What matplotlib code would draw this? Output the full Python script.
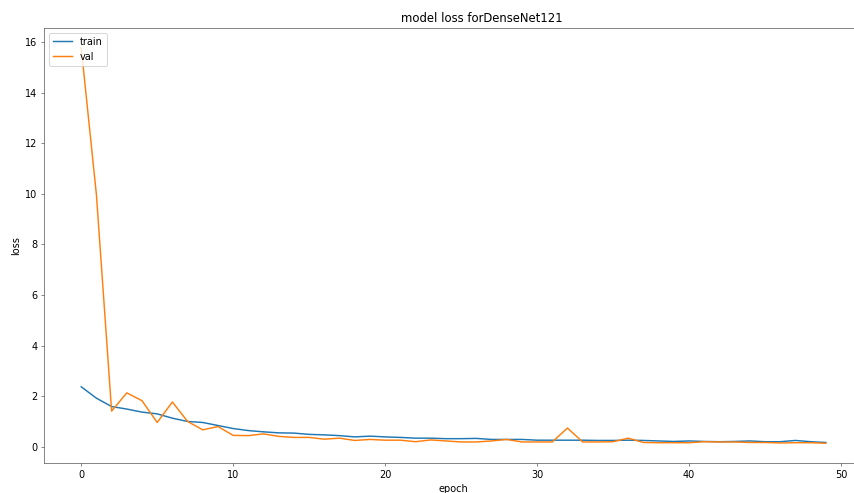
import matplotlib
matplotlib.use("Agg")
import matplotlib.pyplot as plt

epochs = list(range(50))

train_loss = [2.37, 1.92, 1.59, 1.49, 1.37, 1.30, 1.13, 1.00, 0.96, 0.84,
              0.72, 0.64, 0.59, 0.55, 0.54, 0.49, 0.47, 0.44, 0.39, 0.42,
              0.39, 0.37, 0.34, 0.34, 0.32, 0.32, 0.33, 0.29, 0.29, 0.29,
              0.26, 0.26, 0.26, 0.26, 0.25, 0.25, 0.26, 0.25, 0.23, 0.21,
              0.23, 0.21, 0.20, 0.21, 0.23, 0.20, 0.20, 0.25, 0.20, 0.17]

val_loss = [15.77, 9.96, 1.41, 2.13, 1.82, 0.96, 1.77, 1.00, 0.67, 0.80,
            0.45, 0.44, 0.51, 0.41, 0.37, 0.37, 0.30, 0.34, 0.25, 0.29,
            0.26, 0.26, 0.20, 0.27, 0.23, 0.19, 0.19, 0.23, 0.29, 0.19,
            0.19, 0.19, 0.74, 0.19, 0.19, 0.20, 0.34, 0.17, 0.16, 0.16,
            0.16, 0.20, 0.19, 0.19, 0.17, 0.17, 0.15, 0.16, 0.16, 0.14]

dpi = 70
fig = plt.figure(figsize=(854 / dpi, 493 / dpi), dpi=dpi)
# axes run past the right edge of the canvas
ax = fig.add_axes([44 / 854, 30 / 493, 819 / 854, 435 / 493])

ax.plot(epochs, train_loss, label="train")
ax.plot(epochs, val_loss, label="val")

ax.set_title("model loss forDenseNet121", x=0.535)
ax.set_ylabel("loss")
ax.set_xlabel("epoch")
ax.set_yticks([0, 2, 4, 6, 8, 10, 12, 14, 16])
ax.legend(loc="upper left")

for side in ax.spines.values():
    side.set_color("0.4")
ax.tick_params(color="0.4")

fig.savefig("out.png", dpi=dpi)
